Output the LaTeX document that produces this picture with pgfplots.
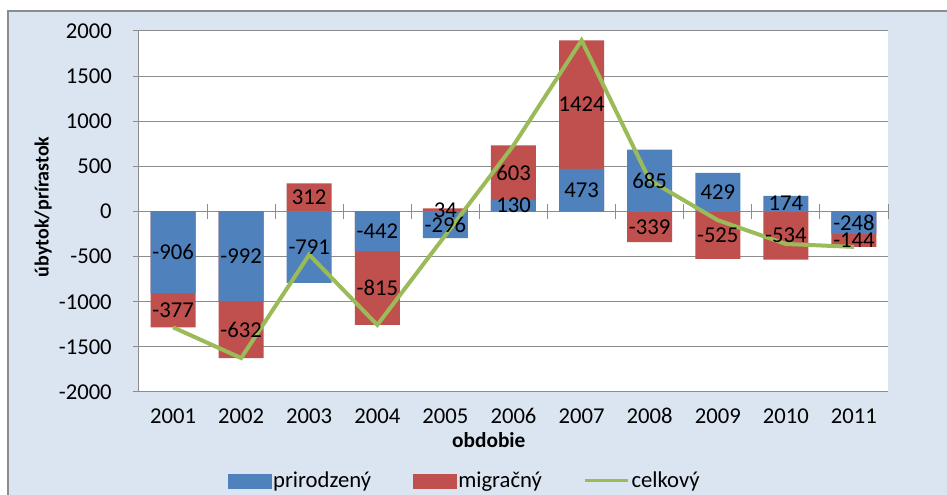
\documentclass[border=0pt]{standalone}
\usepackage{pgfplots}
\pgfplotsset{compat=1.18}
\usepackage{pgfplotstable}
\usepackage{fontspec}
\setmainfont{Carlito}
\definecolor{cblue}{HTML}{4F81BD}
\definecolor{cred}{HTML}{C0504D}
\definecolor{cgreen}{HTML}{9BBB59}
\definecolor{chartbg}{HTML}{DBE5F1}
\definecolor{gridc}{HTML}{8C8C8C}

\pgfplotstableread{
x year blue red
0 2001 -906 -377
1 2002 -992 -632
2 2003 -791 312
3 2004 -442 -815
4 2005 -296 34
5 2006 130 603
6 2007 473 1424
7 2008 685 -339
8 2009 429 -525
9 2010 174 -534
10 2011 -248 -144
}\data

\begin{document}
\begin{tikzpicture}[x=1pt,y=1pt]
\path[use as bounding box, fill=white] (-104.25,-77.25) rectangle (606,294);
\filldraw[fill=chartbg, draw=gridc, line width=1.5pt] (-98.25,-120) rectangle (650,285.75);
\begin{axis}[
  at={(0pt,0pt)}, anchor=south west, scale only axis,
  width=561.75pt, height=270.75pt,
  xmin=-0.5, xmax=10.5, ymin=-2000, ymax=2000,
  clip=false,
  axis background/.style={fill=white},
  axis lines*=left,
  axis line style={gridc, line width=0.75pt},
  xtick={0,...,10},
  xticklabels from table={\data}{year},
  xtick style={draw=none},
  ytick={-2000,-1500,-1000,-500,0,500,1000,1500,2000},
  yticklabels={-2000,-1500,-1000,-500,0,500,1000,1500,2000},
  ytick style={draw=gridc, line width=0.75pt},
  tick align=outside,
  major tick length=4.5pt,
  ymajorgrids,
  grid style={gridc, line width=0.75pt},
  tick label style={font=\fontsize{17}{20}\selectfont, text=black},
  xticklabel style={anchor=center, yshift=-13.5pt},
  yticklabel style={anchor=east, inner sep=0pt, xshift=-15.75pt},
  xlabel={obdobie},
  xlabel style={at={(axis description cs:0.467,-0.133)}, anchor=center, font=\bfseries\fontsize{16}{19}\selectfont},
  ylabel={úbytok/prírastok},
  ylabel style={at={(axis description cs:-0.128,0.5125)}, anchor=center, font=\bfseries\fontsize{15}{18}\selectfont},
  legend style={at={(axis description cs:0.435,-0.2465)}, anchor=center, draw=none, fill=none,
    legend columns=3, font=\fontsize{17}{20}\selectfont,
    nodes={inner sep=1.5pt},
    /tikz/every even column/.append style={column sep=30pt}},
]
% migračný (drawn from zero or stacked on prirodzený when of the same sign)
\addplot[forget plot, ybar, bar width=33.75pt, bar shift=0pt, fill=cred, draw=none]
  table[x=x, y expr={((\thisrow{blue}<0)==(\thisrow{red}<0)) ? (\thisrow{blue}+\thisrow{red}) : (\thisrow{red})}] {\data};
% prirodzený
\addplot[forget plot, ybar, bar width=33.75pt, bar shift=0pt, fill=cblue, draw=none]
  table[x=x, y=blue] {\data};
% zero-line ticks
\pgfplotsinvokeforeach{0.5,1.5,2.5,3.5,4.5,5.5,6.5,7.5,8.5,9.5,10.5}{
  \draw[gridc, line width=0.75pt] (axis cs:#1,-80) -- (axis cs:#1,80);
}
% celkový
\addplot[forget plot, cgreen, line width=3pt, mark=none]
  table[x=x, y expr={\thisrow{blue}+\thisrow{red}}] {\data};
% labels
\addplot[forget plot, only marks, mark=*, mark size=0pt, mark options={draw=none,fill=none},
  nodes near coords, point meta=explicit symbolic,
  nodes near coords style={anchor=center, inner sep=0pt, font=\fontsize{17}{20}\selectfont, text=black}]
  table[x=x, y expr={\thisrow{blue}/2}, meta=blue] {\data};
\addplot[forget plot, only marks, mark=*, mark size=0pt, mark options={draw=none,fill=none},
  nodes near coords, point meta=explicit symbolic,
  nodes near coords style={anchor=center, inner sep=0pt, font=\fontsize{17}{20}\selectfont, text=black}]
  table[x=x, y expr={((\thisrow{blue}<0)==(\thisrow{red}<0)) ? (\thisrow{blue}+\thisrow{red}/2) : (\thisrow{red}/2)}, meta=red] {\data};
% legend
\addlegendimage{legend image code/.code={\fill[cblue] (0pt,-5.25pt) rectangle (32pt,5.25pt);}}
\addlegendentry{prirodzený}
\addlegendimage{legend image code/.code={\fill[cred] (0pt,-5.25pt) rectangle (32pt,5.25pt);}}
\addlegendentry{migračný}
\addlegendimage{legend image code/.code={\draw[cgreen, line width=2.25pt] (0pt,0pt) -- (32pt,0pt);}}
\addlegendentry{celkový}
\end{axis}
\end{tikzpicture}
\end{document}
